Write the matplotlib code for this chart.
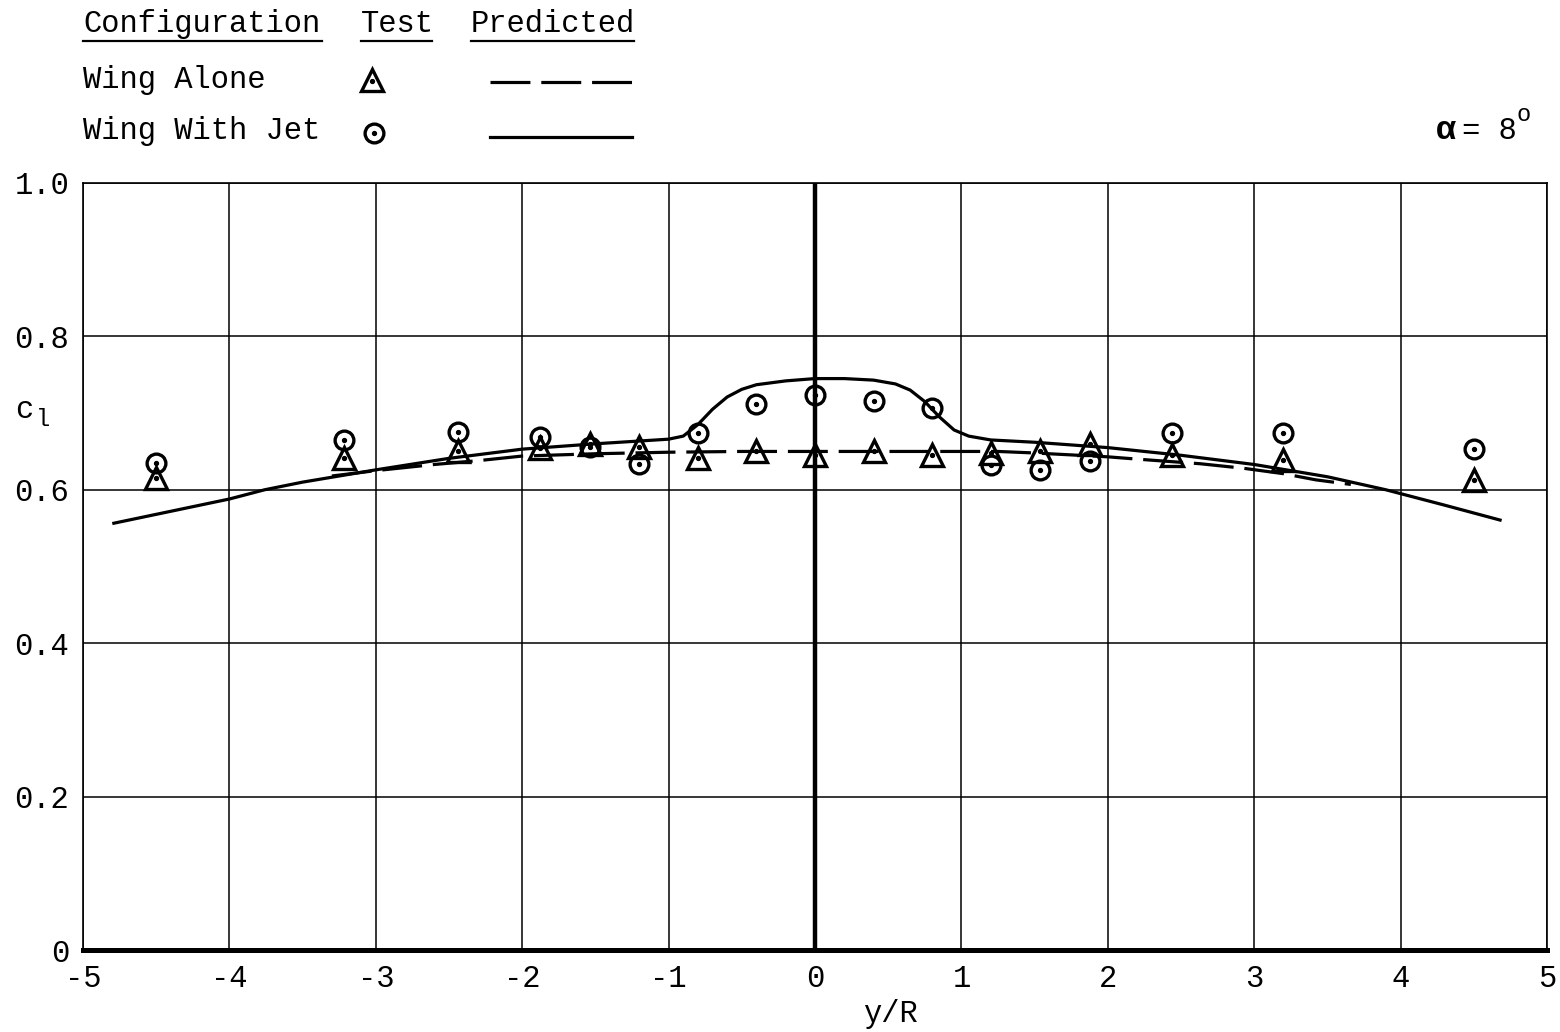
import matplotlib
matplotlib.use("Agg")
import matplotlib.pyplot as plt
from matplotlib.lines import Line2D

plt.rcParams['font.family'] = ['Liberation Mono', 'DejaVu Sans Mono']

# Spanwise stations y/R of the measured data
span = [-4.5, -3.22, -2.44, -1.88, -1.54, -1.2, -0.8, -0.4, 0.0, 0.4, 0.8,
        1.2, 1.54, 1.88, 2.44, 3.2, 4.5]
# Measured section lift coefficient
cl_wing_alone = [0.615, 0.641, 0.650, 0.655, 0.660, 0.656, 0.641, 0.651, 0.646,
                 0.650, 0.646, 0.648, 0.651, 0.660, 0.646, 0.639, 0.613]
cl_wing_jet = [0.635, 0.665, 0.676, 0.669, 0.656, 0.633, 0.674, 0.712, 0.723,
               0.716, 0.706, 0.632, 0.626, 0.638, 0.674, 0.674, 0.653]

# Predicted distributions
pred_jet_x = [-4.8, -4.4, -4.0, -3.76, -3.5, -3.0, -2.5, -2.0, -1.5, -1.0, -0.9,
              -0.8, -0.7, -0.6, -0.5, -0.4, -0.2, 0.0, 0.2, 0.4, 0.55, 0.65,
              0.75, 0.85, 0.95, 1.05, 1.2, 1.5, 2.0, 2.5, 3.0, 3.5, 3.9, 4.3, 4.69]
pred_jet_cl = [0.556, 0.572, 0.588, 0.600, 0.610, 0.626, 0.641, 0.653, 0.660,
               0.666, 0.670, 0.685, 0.705, 0.721, 0.731, 0.737, 0.742, 0.745,
               0.745, 0.743, 0.738, 0.730, 0.715, 0.695, 0.678, 0.670, 0.665,
               0.662, 0.655, 0.645, 0.633, 0.617, 0.600, 0.580, 0.560]
pred_alone_x = [-3.3, -3.0, -2.6, -2.3, -2.0, -1.5, -1.0, -0.5, 0.0, 0.5, 1.0,
                1.25, 1.5, 2.0, 2.2, 2.63, 2.93, 3.2, 3.42, 3.66]
pred_alone_cl = [0.618, 0.625, 0.633, 0.638, 0.644, 0.647, 0.649, 0.650, 0.650,
                 0.650, 0.650, 0.650, 0.648, 0.643, 0.640, 0.634, 0.628, 0.621,
                 0.613, 0.607]

x_ticks = [-5, -4, -3, -2, -1, 0, 1, 2, 3, 4, 5]
x_tick_labels = ['-5', '-4', '-3', '-2', '-1', '0', '1', '2', '3', '4', '5']
y_ticks = [0, 0.2, 0.4, 0.6, 0.8, 1.0]
y_tick_labels = ['0', '0.2', '0.4', '0.6', '0.8', '1.0']

W, H = 1560, 1032
fig = plt.figure(figsize=(W / 100, H / 100), dpi=100)
fig.patch.set_facecolor('white')


def fx(px):
    return px / W


def fy(py):
    return 1 - py / H


ax = fig.add_axes([fx(83), fy(950), fx(1547) - fx(83), fy(183) - fy(950)])
ax.set_xlim(-5, 5)
ax.set_ylim(0, 1.0)

# grid
for xv in x_ticks:
    ax.axvline(xv, color='black', lw=1.1, zorder=1)
for yv in y_ticks:
    ax.axhline(yv, color='black', lw=1.1, zorder=1)
ax.axvline(0, color='black', lw=3.2, zorder=2)

for side in ['top', 'right', 'left']:
    ax.spines[side].set_linewidth(1.2)
ax.spines['bottom'].set_linewidth(3.6)

ax.set_xticks(x_ticks)
ax.set_xticklabels(x_tick_labels)
ax.set_yticks(y_ticks)
ax.set_yticklabels(y_tick_labels)
ax.tick_params(axis='both', length=0, labelsize=22)
ax.tick_params(axis='x', pad=10)
ax.tick_params(axis='y', pad=10)

dash_pattern = (12.5, 3.4)

# predicted curves
ax.plot(pred_jet_x, pred_jet_cl, color='black', lw=2.3, zorder=3,
        solid_capstyle='butt')
ax.plot(pred_alone_x, pred_alone_cl, color='black', lw=2.3, zorder=3,
        dashes=dash_pattern)

# test data
tri_style = dict(marker='^', ms=15.5, mfc='none', mec='black', mew=2.4,
                 ls='none', zorder=4)
circ_style = dict(marker='o', ms=13.5, mfc='none', mec='black', mew=2.4,
                  ls='none', zorder=5)
dot_style = dict(marker='o', ms=2.8, color='black', ls='none', zorder=6)
ax.plot(span, cl_wing_alone, **tri_style)
ax.plot(span, cl_wing_alone, **dot_style)
ax.plot(span, cl_wing_jet, **circ_style)
ax.plot(span, cl_wing_jet, **dot_style)

# axis labels
fig.text(fx(15), fy(418), 'c', fontsize=22, ha='left', va='baseline')
fig.text(fx(36), fy(426), 'l', fontsize=17, ha='left', va='baseline')
fig.text(fx(890), fy(1022), 'y/R', fontsize=22, ha='center', va='baseline')

# legend table
hdr_base = 32
fig.text(fx(83), fy(hdr_base), 'Configuration', fontsize=22, va='baseline')
fig.text(fx(361), fy(hdr_base), 'Test', fontsize=22, va='baseline')
fig.text(fx(471), fy(hdr_base), 'Predicted', fontsize=22, va='baseline')
for x0, x1 in [(83, 322), (361, 432), (471, 634)]:
    fig.add_artist(Line2D([fx(x0), fx(x1)], [fy(41), fy(41)], color='black',
                          lw=1.6, transform=fig.transFigure))

fig.text(fx(83), fy(88), 'Wing Alone', fontsize=22, va='baseline')
fig.text(fx(83), fy(139), 'Wing With Jet', fontsize=22, va='baseline')

fig.add_artist(Line2D([fx(372)], [fy(80)], transform=fig.transFigure, **tri_style))
fig.add_artist(Line2D([fx(372)], [fy(81)], transform=fig.transFigure, **dot_style))
fig.add_artist(Line2D([fx(374)], [fy(133)], transform=fig.transFigure, **circ_style))
fig.add_artist(Line2D([fx(374)], [fy(133)], transform=fig.transFigure, **dot_style))
fig.add_artist(Line2D([fx(490), fx(634)], [fy(82), fy(82)], color='black',
                      lw=2.3, dashes=dash_pattern, transform=fig.transFigure))
fig.add_artist(Line2D([fx(490), fx(632)], [fy(137), fy(137)], color='black',
                      lw=2.3, transform=fig.transFigure))

# angle of attack
fig.text(fx(1436), fy(139), '\u03b1', fontsize=24, va='baseline',
         fontweight='bold')
fig.text(fx(1462), fy(139), '= 8', fontsize=22, va='baseline')
fig.text(fx(1516), fy(121), 'o', fontsize=17, va='baseline')

fig.savefig('out.png', dpi=100, facecolor='white')
